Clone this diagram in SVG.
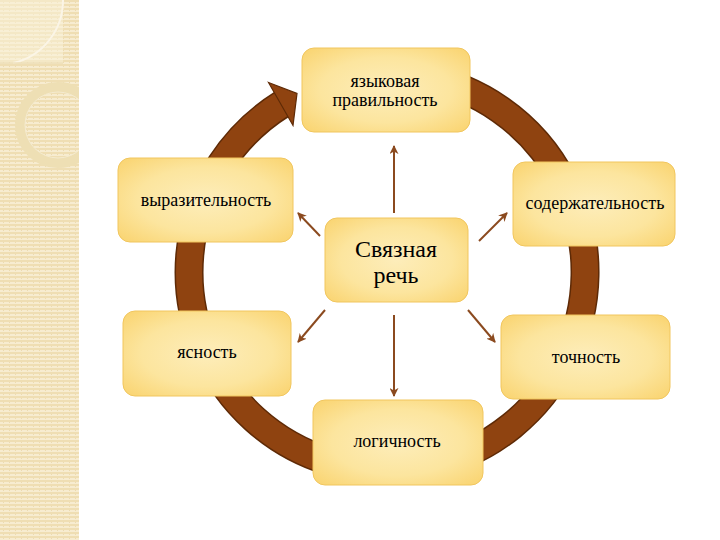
<svg xmlns="http://www.w3.org/2000/svg" width="720" height="540" viewBox="0 0 720 540">
<defs>
  <pattern id="stripes" width="6" height="4" patternUnits="userSpaceOnUse">
    <rect width="6" height="4" fill="#F7ECD0"/>
    <rect y="0" width="6" height="2" fill="#EFDEB3"/>
    <rect x="3" y="2" width="1" height="1" fill="#ECDAB0"/>
  </pattern>
  <clipPath id="sideClip"><rect x="0" y="0" width="79" height="540"/></clipPath>
  <radialGradient id="nodeFill" cx="50%" cy="50%" r="65%">
    <stop offset="0" stop-color="#FDEDBA"/>
    <stop offset="0.6" stop-color="#FCE59E"/>
    <stop offset="1" stop-color="#FAD676"/>
  </radialGradient>
  <marker id="arr" viewBox="0 0 10 10" refX="9" refY="5" markerWidth="9" markerHeight="9" markerUnits="userSpaceOnUse" orient="auto">
    <path d="M0,0 L10,5 L0,10 L3,5 z" fill="#8B4A1F"/>
  </marker>
  <style>
    .node rect { fill: url(#nodeFill); stroke: #F1C65E; stroke-width: 1; }
    .node text { font-family: "Liberation Serif", "DejaVu Serif", "Times New Roman", Times, serif; font-size: 18px; fill: #000; text-anchor: middle; }
    .node text.big { font-size: 24px; }
    .conn line { stroke: #8B4A1F; stroke-width: 2; marker-end: url(#arr); }
  </style>
</defs>

<!-- left decorative sidebar -->
<g id="sidebar">
  <rect x="0" y="0" width="79" height="540" fill="url(#stripes)"/>
  <g clip-path="url(#sideClip)" fill="none">
    <rect x="0" y="0" width="63" height="63" fill="#FAF1DA" opacity="0.5"/>
    <path d="M63,0 A64,64 0 0 1 13,63" stroke="#FBF5E6" stroke-width="2"/>
    <line x1="0" y1="63" x2="63" y2="63" stroke="#E8D6A8" stroke-width="1"/>
    <circle cx="58" cy="125" r="38" stroke="#EEDFB4" stroke-width="10"/>
    <circle cx="58" cy="125" r="33" stroke="#F5EBCF" stroke-width="1"/>
  </g>
</g>

<!-- circular arrow -->
<g id="cycle">
  <path d="M 421.4 77 A 198 198 0 1 1 282.1 104.1" fill="none" stroke="#5E2A06" stroke-width="29"/>
  <path d="M 421.4 77 A 198 198 0 1 1 282.1 104.1" fill="none" stroke="#8F4310" stroke-width="26"/>
  <polygon points="268.5,82.5 297,93.5 293,125.5" fill="#8F4310" stroke="#5E2A06" stroke-width="1.2" stroke-linejoin="miter"/>
</g>

<!-- connectors -->
<g id="connectors" class="conn">
  <line x1="394" y1="213" x2="394" y2="146"/>
  <line x1="320" y1="236" x2="298" y2="213"/>
  <line x1="479" y1="241" x2="507" y2="213"/>
  <line x1="325" y1="310" x2="298" y2="342"/>
  <line x1="468" y1="310" x2="495" y2="342"/>
  <line x1="394" y1="315" x2="394" y2="396"/>
</g>

<!-- nodes -->
<g id="node-pravilnost" class="node">
  <rect x="302" y="48" width="168" height="84" rx="12"/>
  <text x="385" y="87">языковая</text>
  <text x="385" y="106">правильность</text>
</g>
<g id="node-vyrazitelnost" class="node">
  <rect x="118" y="158" width="175" height="84" rx="12"/>
  <text x="206" y="206">выразительность</text>
</g>
<g id="node-soderzhatelnost" class="node">
  <rect x="513" y="162" width="162" height="84" rx="12"/>
  <text x="595" y="209">содержательность</text>
</g>
<g id="node-center" class="node">
  <rect x="325" y="218" width="143" height="84" rx="12"/>
  <text class="big" x="396" y="257">Связная</text>
  <text class="big" x="396" y="283">речь</text>
</g>
<g id="node-yasnost" class="node">
  <rect x="123" y="311" width="168" height="85" rx="12"/>
  <text x="207" y="358">ясность</text>
</g>
<g id="node-tochnost" class="node">
  <rect x="501" y="315" width="169" height="84" rx="12"/>
  <text x="586" y="363">точность</text>
</g>
<g id="node-logichnost" class="node">
  <rect x="313" y="400" width="170" height="85" rx="12"/>
  <text x="397" y="447">логичность</text>
</g>
</svg>
